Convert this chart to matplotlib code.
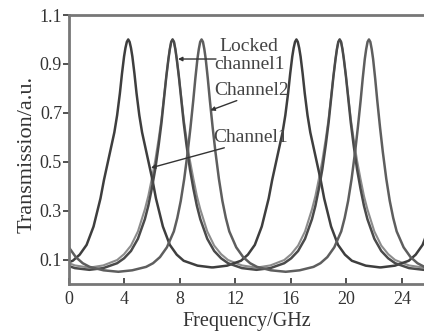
import matplotlib
matplotlib.use('Agg')
import matplotlib.pyplot as plt
import numpy as np

# resonance peak positions (GHz) (outer ones are just off-axis)
peaks_ch1 = [-7.83, 4.27, 16.40, 28.50]      # Channel1
peaks_locked = [-4.58, 7.47, 19.52, 31.57]   # Locked channel1
peaks_ch2 = [-2.51, 9.56, 21.63, 33.70]      # Channel2

# line shape: offset from centre (GHz) -> transmission
offsets = [0.0, 0.1, 0.2, 0.3, 0.45, 0.6, 0.8, 1.0, 1.25, 1.5, 1.75, 2.0,
           2.5, 3.0, 3.5, 4.0, 5.0, 6.0]
shape_ch1 = [1.0, 0.99, 0.965, 0.93, 0.86, 0.78, 0.69, 0.62, 0.555, 0.49, 0.425, 0.35,
             0.235, 0.16, 0.12, 0.095, 0.075, 0.068]
shape_locked = [1.0, 0.99, 0.96, 0.92, 0.85, 0.77, 0.66, 0.57, 0.47, 0.39, 0.32, 0.265,
                0.185, 0.135, 0.105, 0.085, 0.065, 0.058]
# faint second trace around the locked peaks (slightly broader skirts)
shape_locked_b = [1.0, 0.99, 0.96, 0.92, 0.85, 0.775, 0.675, 0.595, 0.505, 0.43, 0.36, 0.305,
                  0.215, 0.157, 0.122, 0.098, 0.076, 0.067]
shape_ch2 = [1.0, 0.99, 0.96, 0.92, 0.84, 0.75, 0.64, 0.54, 0.43, 0.34, 0.27, 0.215,
             0.15, 0.11, 0.085, 0.07, 0.056, 0.05]

xticks = [0, 4, 8, 12, 16, 20, 24]
yticks = [0.1, 0.3, 0.5, 0.7, 0.9, 1.1]


def build(peaks, shape):
    off = np.array(offsets)
    t = np.array(shape)
    xs, ys = [], []
    for p in peaks:
        xs.append(np.concatenate([p - off[::-1], p + off[1:]]))
        ys.append(np.concatenate([t[::-1], t[1:]]))
    return np.concatenate(xs), np.concatenate(ys)


plt.rcParams['font.family'] = ['Liberation Serif', 'DejaVu Serif']

fig = plt.figure(figsize=(4.24, 3.31), dpi=100)
ax = fig.add_axes([69 / 424, 47 / 331, 355 / 424, 269 / 331])

x1, y1 = build(peaks_ch1, shape_ch1)
x2, y2 = build(peaks_locked, shape_locked)
x2b, y2b = build(peaks_locked, shape_locked_b)
x3, y3 = build(peaks_ch2, shape_ch2)
ax.plot(x2b, y2b, color='#8c8c8c', lw=1.5, solid_joinstyle='round')
ax.plot(x1, y1, color='#3e3e3e', lw=1.8, solid_joinstyle='round')
ax.plot(x2, y2, color='#4a4a4a', lw=1.8, solid_joinstyle='round')
ax.plot(x3, y3, color='#5e5e5e', lw=1.8, solid_joinstyle='round')

ax.set_xlim(0, 25.6)
ax.set_ylim(0, 1.1)
ax.set_xticks(xticks)
ax.set_yticks(yticks)
ax.set_yticklabels(['0.1', '0.3', '0.5', '0.7', '0.9', '1.1'])
ax.tick_params(axis='x', direction='in', length=4, width=1.2, colors='#333',
               labelsize=13, pad=5)
ax.tick_params(axis='y', direction='out', length=4, width=1.2, colors='#333',
               labelsize=13, pad=1)
for s in ['left', 'bottom', 'top']:
    ax.spines[s].set_color('#777777')
    ax.spines[s].set_linewidth(2.0)
ax.spines['right'].set_visible(False)

ax.set_xlabel('Frequency/GHz', fontsize=14.5, color='#333', labelpad=3)
ax.set_ylabel('Transmission/a.u.', fontsize=16, color='#333')
ax.yaxis.set_label_coords(-0.092, 0.48)

# labels and their arrows (arrow tail -> head)
ax.text(13.0, 0.934, 'Locked\nchannel1', fontsize=14, color='#444',
        ha='center', va='center', linespacing=1.1)
ax.text(13.2, 0.79, 'Channel2', fontsize=14, color='#444', ha='center', va='center')
ax.text(13.1, 0.60, 'Channel1', fontsize=14, color='#444', ha='center', va='center')

arrow = dict(arrowstyle='-|>', color='#333', lw=1.0, mutation_scale=6,
             shrinkA=0, shrinkB=0)
ax.annotate('', xy=(7.86, 0.92), xytext=(10.6, 0.92), arrowprops=arrow)
ax.annotate('', xy=(10.2, 0.71), xytext=(12.1, 0.75), arrowprops=arrow)
ax.annotate('', xy=(5.91, 0.475), xytext=(11.2, 0.557), arrowprops=arrow)

fig.savefig('out.png', dpi=100)
